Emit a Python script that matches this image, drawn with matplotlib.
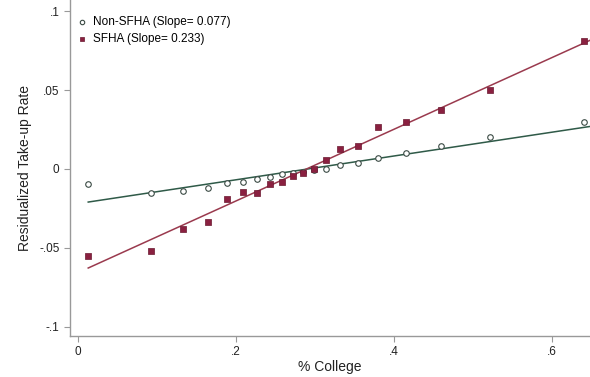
import matplotlib
matplotlib.use('Agg')
import matplotlib.pyplot as plt
import numpy as np

plt.rcParams['font.family'] = ['Liberation Sans', 'DejaVu Sans']

# binned % college (x) and residualized take-up rate
college = [0.013, 0.092, 0.133, 0.164, 0.189, 0.209, 0.227, 0.243, 0.258, 0.272,
           0.285, 0.299, 0.314, 0.332, 0.354, 0.380, 0.415, 0.460, 0.522, 0.641]
non_sfha = [-0.0097, -0.0153, -0.0137, -0.0122, -0.0090, -0.0084, -0.0063, -0.0049,
            -0.0034, -0.0027, -0.0017, -0.0006, 0.0000, 0.0025, 0.0036, 0.0068,
            0.0099, 0.0145, 0.0200, 0.0295]
sfha = [-0.0554, -0.0522, -0.0381, -0.0333, -0.0191, -0.0147, -0.0153, -0.0097,
        -0.0080, -0.0044, -0.0023, -0.0002, 0.0057, 0.0126, 0.0145, 0.0267,
        0.0297, 0.0372, 0.0497, 0.0808]

xticks = [0, 0.2, 0.4, 0.6]
xticklabels = ['0', '.2', '.4', '.6']
yticks = [-0.1, -0.05, 0, 0.05, 0.1]
yticklabels = ['-.1', '-.05', '0', '.05', '.1']

red = '#8a2040'
green = '#2f5a48'

fig = plt.figure(figsize=(5.9, 3.77), dpi=100)
ax = fig.add_axes([0.1186, 0.109, 0.8814, 0.891])

x = np.array(college)
xfit = np.array([x[0], 0.65])

# fitted lines
b1 = np.polyfit(x, non_sfha, 1)
b2 = np.polyfit(x, sfha, 1)
ax.plot(xfit, np.polyval(b1, xfit), color=green, lw=1.1, zorder=2)
ax.plot(xfit, np.polyval(b2, xfit), color='#9a3a4e', lw=1.1, zorder=2)

ax.scatter(x, non_sfha, marker='o', s=16, facecolors='white', edgecolors='#3a4a44',
           linewidths=0.8, zorder=3, label='Non-SFHA (Slope= 0.077)')
ax.scatter(x, sfha, marker='s', s=20, color=red, edgecolors='#6a1830',
           linewidths=0.5, zorder=3, label='SFHA (Slope= 0.233)')

ax.set_xlim(-0.0101, 0.648)
ax.set_ylim(-0.1057, 0.107)
ax.set_xticks(xticks)
ax.set_xticklabels(xticklabels)
ax.set_yticks(yticks)
ax.set_yticklabels(yticklabels)

for s in ['top', 'right']:
    ax.spines[s].set_visible(False)
for s in ['left', 'bottom']:
    ax.spines[s].set_color('#999999')
    ax.spines[s].set_linewidth(1.0)
ax.tick_params(colors='#999999', length=4, width=0.8, labelsize=8.5, labelcolor='#222222')

ax.set_xlabel('% College', fontsize=10, color='#222222', labelpad=1)
ax.set_ylabel('Residualized Take-up Rate', fontsize=10, color='#222222', labelpad=5)

ax.legend(loc='upper left', frameon=False, fontsize=8.5, handletextpad=0.4,
          handlelength=1.0, borderaxespad=0.0, bbox_to_anchor=(0.003, 0.965),
          labelspacing=0.4, scatterpoints=1, markerscale=0.8)

fig.savefig('out.png', dpi=100)
